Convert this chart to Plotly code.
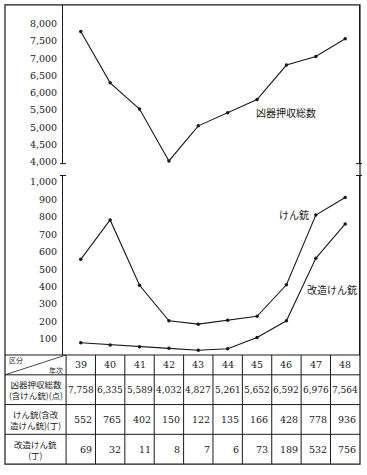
import plotly.graph_objects as go

# ---- data ----
years = [39, 40, 41, 42, 43, 44, 45, 46, 47, 48]
year_labels = ["39", "40", "41", "42", "43", "44", "45", "46", "47", "48"]
# plotted line values (as drawn in the graph)
weapons_plot = [7772, 6290, 5529, 4029, 5045, 5426, 5805, 6803, 7050, 7563]
guns_plot = [557, 783, 408, 204, 185, 208, 230, 411, 811, 912]
modified_plot = [78, 66, 55, 46, 35, 44, 108, 204, 563, 760]
# table values
weapons_table = [7758, 6335, 5589, 4032, 4827, 5261, 5652, 6592, 6976, 7564]
guns_table = [552, 765, 402, 150, 122, 135, 166, 428, 778, 936]
modified_table = [69, 32, 11, 8, 7, 6, 73, 189, 532, 756]
upper_ticks = [4000, 4500, 5000, 5500, 6000, 6500, 7000, 7500, 8000]
lower_ticks = [100, 200, 300, 400, 500, 600, 700, 800, 900, 1000]
row_labels = ["凶器押収総数<br>(含けん銃)(点)", "けん銃(含改<br>造けん銃)(丁)", "改造けん銃<br>(丁)"]
series_labels = ["凶器押収総数", "けん銃", "改造けん銃"]

W, H = 367, 475
INK = "#1a1a1a"
SERIF = "DejaVu Serif"
CJK = "Noto Sans CJK JP"


def py(p):  # pixel y -> paper
    return 1 - p / H


def px(p):
    return p / W


fig = go.Figure()
line_style = dict(color=INK, width=1.1)
marker_style = dict(color=INK, size=3.5)
fig.add_trace(go.Scatter(x=years, y=weapons_plot, mode="lines+markers", line=line_style,
                         marker=marker_style, xaxis="x", yaxis="y", showlegend=False))
fig.add_trace(go.Scatter(x=years, y=guns_plot, mode="lines+markers", line=line_style,
                         marker=marker_style, xaxis="x2", yaxis="y2", showlegend=False))
fig.add_trace(go.Scatter(x=years, y=modified_plot, mode="lines+markers", line=line_style,
                         marker=marker_style, xaxis="x2", yaxis="y2", showlegend=False))

x_left_px, x_right_px = 63, 359
xr = [38.395, 48.47]
axis_common = dict(showgrid=False, zeroline=False, showline=True, linecolor=INK, linewidth=1,
                   mirror=True, ticks="", ticklabelstandoff=3,
                   tickfont=dict(family=SERIF, size=9.5, color=INK))

fig.update_layout(
    width=W, height=H, margin=dict(l=0, r=0, t=0, b=0),
    paper_bgcolor="white", plot_bgcolor="white",
    xaxis=dict(domain=[px(x_left_px), px(x_right_px)], range=xr, anchor="y",
               showgrid=False, zeroline=False, showticklabels=False, ticks="", showline=False),
    xaxis2=dict(domain=[px(x_left_px), px(x_right_px)], range=xr, anchor="y2",
                showgrid=False, zeroline=False, showticklabels=False, ticks="", showline=False),
    yaxis=dict(domain=[py(165), py(5)], range=[3952, 8542], tickvals=upper_ticks,
               tickformat=",", anchor="x", **axis_common),
    yaxis2=dict(domain=[py(358), py(177)], range=[8, 1038], tickvals=lower_ticks,
                tickformat=",", anchor="x2", **axis_common),
)

shapes = []
# outer frame
shapes.append(dict(type="rect", xref="paper", yref="paper", x0=px(5), x1=px(360),
                   y0=py(468), y1=py(5), line=dict(color=INK, width=1.2)))
# axis break marks
for xpx in (x_left_px, x_right_px):
    for ypx in (165, 177):
        shapes.append(dict(type="line", xref="paper", yref="paper", x0=px(xpx - 3), x1=px(xpx + 3),
                           y0=py(ypx), y1=py(ypx), line=dict(color=INK, width=1)))
# table horizontal lines
for ypx in (358, 378, 408, 438):
    shapes.append(dict(type="line", xref="paper", yref="paper", x0=px(5), x1=px(360),
                       y0=py(ypx), y1=py(ypx), line=dict(color=INK, width=1)))
# table vertical lines (column boundaries between years)
for i in range(len(years)):
    shapes.append(dict(type="line", xref="x", yref="paper", x0=years[i] - 0.5, x1=years[i] - 0.5,
                       y0=py(468), y1=py(358), line=dict(color=INK, width=1)))
# diagonal in header cell
shapes.append(dict(type="line", xref="paper", yref="paper", x0=px(5), x1=px(66),
                   y0=py(378), y1=py(358), line=dict(color=INK, width=0.8)))
fig.update_layout(shapes=shapes)

ann = []
# series labels
for lbl, xx, yy in zip(series_labels, (286, 294, 332), (113, 216, 292)):
    ann.append(dict(text=lbl, x=px(xx), y=py(yy), xref="paper", yref="paper", xanchor="center",
                    yanchor="middle", showarrow=False, font=dict(family=CJK, size=10, color=INK)))
# header cell
ann.append(dict(text="区分", x=px(7), y=py(363), xref="paper", yref="paper", xanchor="left",
                yanchor="middle", showarrow=False, font=dict(family=CJK, size=7, color=INK)))
ann.append(dict(text="年次", x=px(65), y=py(373), xref="paper", yref="paper", xanchor="right",
                yanchor="middle", showarrow=False, font=dict(family=CJK, size=7, color=INK)))
# row labels
for lbl, ypx in zip(row_labels, (393, 423, 453)):
    ann.append(dict(text=lbl, x=px(35.5), y=py(ypx), xref="paper", yref="paper", xanchor="center",
                    yanchor="middle", showarrow=False, align="center",
                    font=dict(family=CJK, size=8.5, color=INK)))
# table values
for i, yr in enumerate(years):
    ann.append(dict(text=year_labels[i], x=yr, y=py(368), xref="x", yref="paper", xanchor="center",
                    yanchor="middle", showarrow=False, font=dict(family=SERIF, size=9.5, color=INK)))
    ann.append(dict(text=f"{weapons_table[i]:,}", x=yr, y=py(393), xref="x", yref="paper",
                    xanchor="center", yanchor="middle", showarrow=False,
                    font=dict(family=SERIF, size=9, color=INK)))
    ann.append(dict(text=str(guns_table[i]), x=yr + 0.45, y=py(423), xref="x", yref="paper",
                    xanchor="right", yanchor="middle", showarrow=False,
                    font=dict(family=SERIF, size=9.5, color=INK)))
    ann.append(dict(text=str(modified_table[i]), x=yr + 0.45, y=py(453), xref="x", yref="paper",
                    xanchor="right", yanchor="middle", showarrow=False,
                    font=dict(family=SERIF, size=9.5, color=INK)))
fig.update_layout(annotations=ann)

fig.write_html("out.html", config={"displayModeBar": False},
               post_script="document.body.style.margin='0';document.body.style.overflow='hidden';")
